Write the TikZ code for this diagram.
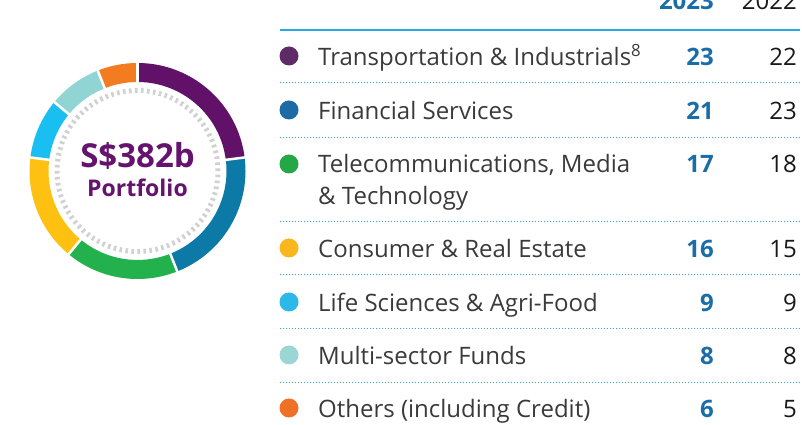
\documentclass[tikz,border=0pt]{standalone}
\usepackage{fontspec}
\setmainfont{Open Sans}
\usepackage{tikz}
\usetikzlibrary{positioning}

\definecolor{ringpurple}{HTML}{611268}
\definecolor{ringblue}{HTML}{0C79A7}
\definecolor{ringgreen}{HTML}{22B14C}
\definecolor{ringyellow}{HTML}{FEC111}
\definecolor{ringsky}{HTML}{18BFF0}
\definecolor{ringteal}{HTML}{91D4D4}
\definecolor{ringorange}{HTML}{F47C20}
\definecolor{dotpurple}{HTML}{5F2B66}
\definecolor{dotblue}{HTML}{1D6AA5}
\definecolor{dotgreen}{HTML}{23A845}
\definecolor{dotyellow}{HTML}{F9B71B}
\definecolor{dotsky}{HTML}{2CB9EA}
\definecolor{dotteal}{HTML}{9BD6D5}
\definecolor{dotorange}{HTML}{EF7125}
\definecolor{rulecol}{HTML}{29A9E1}
\definecolor{newcol}{HTML}{1B6DA8}
\definecolor{textcol}{HTML}{3A3A3A}
\definecolor{centercol}{HTML}{65136E}

\begin{document}
\begin{tikzpicture}[x=1pt,y=1pt,
                    dot/.style={circle,inner sep=0pt,minimum size=19pt},
                    sector label/.style={anchor=base west,inner sep=0pt,text=textcol,font=\fontsize{24}{32}\selectfont,align=left},
                    num new/.style={anchor=base east,inner sep=0pt,text=newcol,font=\fontsize{24}{32}\selectfont\bfseries},
                    num old/.style={anchor=base east,inner sep=0pt,text=black!90,font=\fontsize{24}{32}\selectfont},
                    row rule/.style={rulecol,line width=1pt,dash pattern=on 1pt off 2pt},
                    gap/.style={white,line width=2.5pt}]
    \useasboundingbox (0,0) rectangle (802,425);
    \clip (0,0) rectangle (802,425);

    % donut
    \coordinate (donut) at (137.5,254);
    \begin{scope}[shift={(donut)}]
        \fill[ringpurple] (90:108) arc[start angle=90,end angle=7.2,radius=108] -- (7.2:89) arc[start angle=7.2,end angle=90,radius=89] -- cycle;
        \fill[ringblue] (7.2:108) arc[start angle=7.2,end angle=-68.4,radius=108] -- (-68.4:89) arc[start angle=-68.4,end angle=7.2,radius=89] -- cycle;
        \fill[ringgreen] (-68.4:108) arc[start angle=-68.4,end angle=-129.6,radius=108] -- (-129.6:89) arc[start angle=-129.6,end angle=-68.4,radius=89] -- cycle;
        \fill[ringyellow] (-129.6:108) arc[start angle=-129.6,end angle=-187.2,radius=108] -- (-187.2:89) arc[start angle=-187.2,end angle=-129.6,radius=89] -- cycle;
        \fill[ringsky] (-187.2:108) arc[start angle=-187.2,end angle=-219.6,radius=108] -- (-219.6:89) arc[start angle=-219.6,end angle=-187.2,radius=89] -- cycle;
        \fill[ringteal] (-219.6:108) arc[start angle=-219.6,end angle=-248.4,radius=108] -- (-248.4:89) arc[start angle=-248.4,end angle=-219.6,radius=89] -- cycle;
        \fill[ringorange] (-248.4:108) arc[start angle=-248.4,end angle=-270,radius=108] -- (-270:89) arc[start angle=-270,end angle=-248.4,radius=89] -- cycle;
        % white gaps
        \draw[gap] (90:86) -- (90:111);
        \draw[gap] (7.2:86) -- (7.2:111);
        \draw[gap] (-68.4:86) -- (-68.4:111);
        \draw[gap] (-129.6:86) -- (-129.6:111);
        \draw[gap] (-187.2:86) -- (-187.2:111);
        \draw[gap] (-219.6:86) -- (-219.6:111);
        \draw[gap] (-248.4:86) -- (-248.4:111);
        % inner ticks
        \draw[black!18,line width=5pt,dash pattern=on 2.6pt off 3.42pt] (0,0) circle[radius=80.5];
    \end{scope}
    \node[inner sep=0pt,anchor=base,text=centercol,font=\fontsize{33}{40}\selectfont\bfseries] (total) at (137.5,257) {S\$382b};
    \node[inner sep=0pt,anchor=base,text=centercol,font=\fontsize{23}{26}\selectfont\bfseries] (portfolio) at (137.5,228) {Portfolio};

    % header
    \node[num new] (h23) at (714,415) {2023};
    \node[num old] (h22) at (797,415) {2022};
    \draw[rulecol,line width=1.2pt] (280,395) -- (800,395);

    % rows
    \node[dot,fill=dotpurple] (d1) at (289,369) {};
    \node[sector label] (l1) at (318,359) {Transportation \& Industrials\textsuperscript{8}};
    \node[num new] (n1) at (714,359) {23};
    \node[num old] (o1) at (797,359) {22};
    \draw[row rule] (280,342) -- (800,342);

    \node[dot,fill=dotblue] (d2) at (289,315) {};
    \node[sector label] (l2) at (318,305) {Financial Services};
    \node[num new] (n2) at (714,305) {21};
    \node[num old] (o2) at (797,305) {23};
    \draw[row rule] (280,287) -- (800,287);

    \node[dot,fill=dotgreen] (d3) at (289,261) {};
    \node[sector label] (l3) at (318,220) {Telecommunications, Media\\\& Technology};
    \node[num new] (n3) at (714,252) {17};
    \node[num old] (o3) at (797,252) {18};
    \draw[row rule] (280,203) -- (800,203);

    \node[dot,fill=dotyellow] (d4) at (289,177) {};
    \node[sector label] (l4) at (318,167) {Consumer \& Real Estate};
    \node[num new] (n4) at (714,167) {16};
    \node[num old] (o4) at (797,167) {15};
    \draw[row rule] (280,150) -- (800,150);

    \node[dot,fill=dotsky] (d5) at (289,123) {};
    \node[sector label] (l5) at (318,113) {Life Sciences \& Agri-Food};
    \node[num new] (n5) at (714,113) {9};
    \node[num old] (o5) at (797,113) {9};
    \draw[row rule] (280,96) -- (800,96);

    \node[dot,fill=dotteal] (d6) at (289,70) {};
    \node[sector label] (l6) at (318,60) {Multi-sector Funds};
    \node[num new] (n6) at (714,60) {8};
    \node[num old] (o6) at (797,60) {8};
    \draw[row rule] (280,42) -- (800,42);

    \node[dot,fill=dotorange] (d7) at (289,17) {};
    \node[sector label] (l7) at (318,7) {Others (including Credit)};
    \node[num new] (n7) at (714,7) {6};
    \node[num old] (o7) at (797,7) {5};
\end{tikzpicture}
\end{document}
